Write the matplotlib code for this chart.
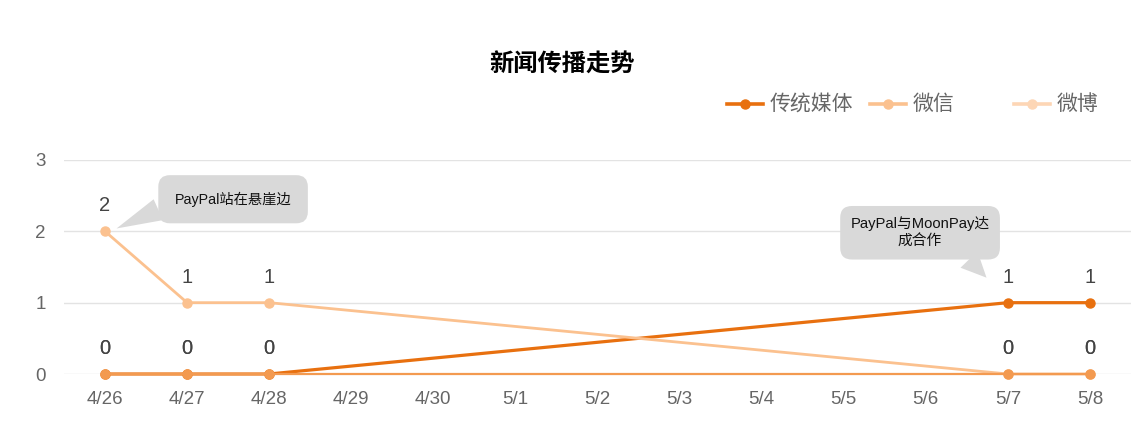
import numpy as np
import matplotlib
matplotlib.use("Agg")
import matplotlib.pyplot as plt
from matplotlib.lines import Line2D

plt.rcParams['font.family'] = ['Liberation Sans', 'Noto Sans CJK SC', 'DejaVu Sans']

# --- data ---
dates = ["4/26", "4/27", "4/28", "4/29", "4/30", "5/1", "5/2",
         "5/3", "5/4", "5/5", "5/6", "5/7", "5/8"]
nan = np.nan
media = [0, 0, 0, nan, nan, nan, nan, nan, nan, nan, nan, 1, 1]
wechat = [2, 1, 1, nan, nan, nan, nan, nan, nan, nan, nan, 0, 0]
weibo = [0, 0, 0, nan, nan, nan, nan, nan, nan, nan, nan, 0, 0]
series_names = ["传统媒体", "微信", "微博"]
notes = ["PayPal站在悬崖边", "PayPal与MoonPay达\n成合作"]

W, H = 1146, 444
fig = plt.figure(figsize=(W / 100, H / 100), dpi=100)
ax = fig.add_axes([64 / W, 70 / H, (1131 - 64) / W, (374 - 160) / H])

x = np.arange(len(dates))
styles = [
    dict(color="#E8700F", lw=2.3, ms=6.5, z=3, legend="#E8700F"),
    dict(color="#FBC18F", lw=2.0, ms=6.5, z=4, legend="#FBC18F"),
    dict(color="#F39A50", lw=1.6, ms=6.5, z=5, legend="#FDD6B5"),
]
for vals, st in zip([media, wechat, weibo], styles):
    v = np.array(vals, dtype=float)
    m = ~np.isnan(v)
    ax.plot(x[m], v[m], color=st["color"], lw=st["lw"], marker="o",
            ms=st["ms"], mec=st["color"], zorder=st["z"], solid_capstyle="round",
            clip_on=False)
    for xi, yi in zip(x[m], v[m]):
        ax.annotate(f"{int(yi)}", (xi, yi), xytext=(0, 11.5), textcoords="offset points",
                    ha="center", va="bottom", fontsize=14.5, color="#444444", zorder=6)

ax.set_xlim(-0.5, len(dates) - 0.5)
ax.set_ylim(0, 3)
ax.set_yticks([0, 1, 2, 3])
ax.set_xticks(x)
ax.set_xticklabels(dates)
ax.tick_params(axis="both", length=0, labelsize=13.5, labelcolor="#666666")
ax.tick_params(axis="x", pad=12)
ax.tick_params(axis="y", pad=13)
ax.grid(axis="y", color="#E3E3E3", lw=1)
ax.set_axisbelow(True)
for s in ax.spines.values():
    s.set_visible(False)

# callouts
box_kw = dict(boxstyle="round,pad=1.15,rounding_size=0.8", fc="#D9D9D9", ec="none")
ax.annotate(notes[0], xy=(0.14, 2.04), xytext=(1.56, 2.45), textcoords="data",
            ha="center", va="center", fontsize=10.3, color="#111111", bbox=box_kw,
            arrowprops=dict(arrowstyle="wedge,tail_width=1.6", fc="#D9D9D9", ec="none",
                            relpos=(0.0, 0.3), shrinkA=0, shrinkB=0), zorder=7)
box_kw2 = dict(boxstyle="round,pad=0.7,rounding_size=0.8", fc="#D9D9D9", ec="none")
ax.annotate(notes[1], xy=(10.74, 1.35), xytext=(9.93, 1.98), textcoords="data",
            ha="center", va="center", fontsize=10.6, color="#111111", bbox=box_kw2,
            linespacing=1.35,
            arrowprops=dict(arrowstyle="wedge,tail_width=1.6", fc="#D9D9D9", ec="none",
                            relpos=(0.78, 0.0), shrinkA=0, shrinkB=0), zorder=7)

fig.text(562 / W, 1 - 65 / H, "新闻传播走势", ha="center", va="center",
         fontsize=17.5, fontweight="heavy", color="#000000")

# legend
leg_x = [727, 870, 1014]
leg_y = 1 - 104 / H
for name, st, lx in zip(series_names, styles, leg_x):
    fig.add_artist(Line2D([lx / W, (lx + 36) / W], [leg_y, leg_y], color=st["legend"],
                          lw=2.6, transform=fig.transFigure))
    fig.add_artist(Line2D([(lx + 18) / W], [leg_y], color=st["legend"], marker="o",
                          ms=6.5, transform=fig.transFigure))
    fig.text((lx + 43) / W, leg_y, name, ha="left", va="center", fontsize=15,
             color="#666666")

fig.savefig("out.png", dpi=100)
